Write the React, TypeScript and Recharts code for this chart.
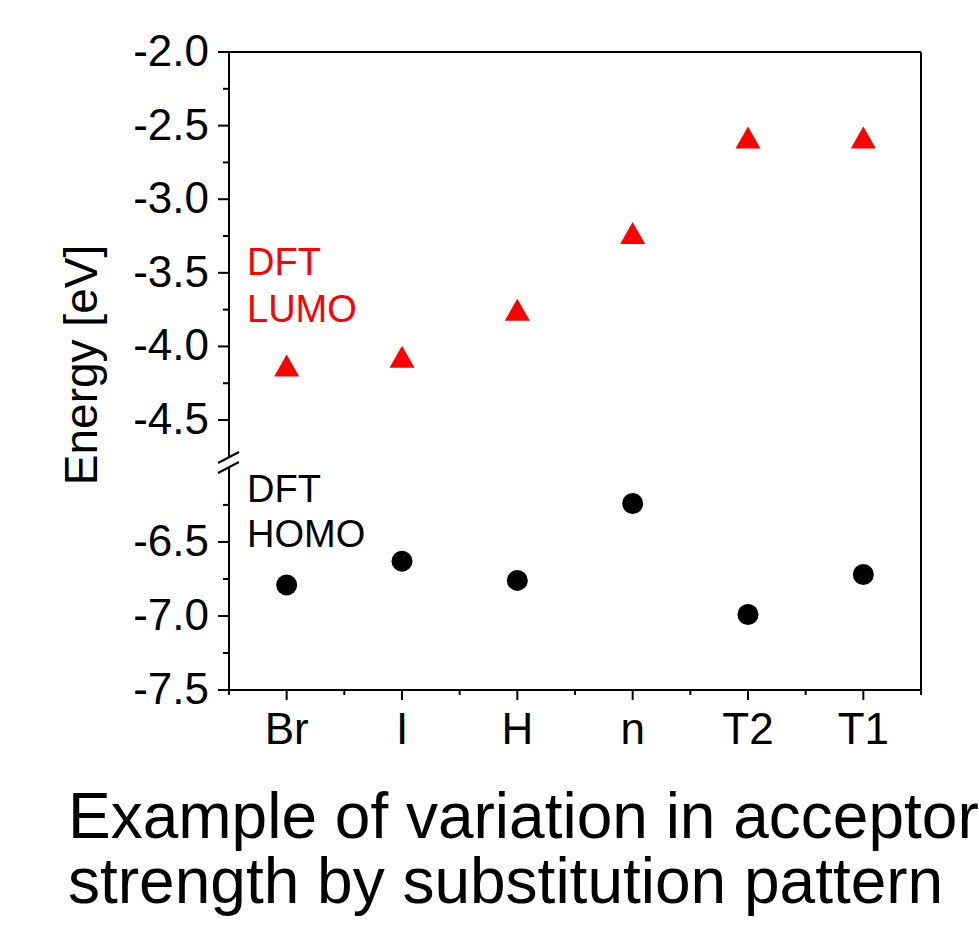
import { ReferenceLine, Scatter, ScatterChart, XAxis, YAxis } from 'recharts';

const FONT = '"Liberation Sans", Arial, sans-serif';

// substitution patterns along the x axis
const categories = ['Br', 'I', 'H', 'n', 'T2', 'T1'];
// DFT energies in eV
const lumo = [-4.13, -4.07, -3.75, -3.23, -2.58, -2.58];
const homo = [-6.79, -6.63, -6.76, -6.24, -6.99, -6.72];

// broken y axis: upper and lower segments
const topDomain = [-4.785, -2.0];
const bottomDomain = [-7.5, -5.96];
const topTicks = [-4.5, -4.25, -4.0, -3.75, -3.5, -3.25, -3.0, -2.75, -2.5, -2.25, -2.0];
const bottomTicks = [-7.5, -7.25, -7.0, -6.75, -6.5, -6.25];
const xTicks = [-0.5, 0, 0.5, 1, 1.5, 2, 2.5, 3, 3.5, 4, 4.5, 5, 5.5];

const lumoData = categories.map((c, i) => ({ x: i, y: lumo[i], name: c }));
const homoData = categories.map((c, i) => ({ x: i, y: homo[i], name: c }));

const isMajor = (v: number) => Math.abs(v * 2 - Math.round(v * 2)) < 1e-6;

function YTick({ x, y, payload }: any) {
    const v = payload.value as number;
    const major = isMajor(v);
    return (
        <g>
            <line x1={x - (major ? 11 : 6)} x2={x} y1={y} y2={y} stroke="#000" strokeWidth={2} />
            {major && (
                <text x={x - 20} y={y + 14} textAnchor="end" fontSize={44} fontFamily={FONT} fill="#000">
                    {v.toFixed(1)}
                </text>
            )}
        </g>
    );
}

function XTick({ x, y, payload }: any) {
    const v = payload.value as number;
    const major = Number.isInteger(v);
    return (
        <g>
            <line x1={x} x2={x} y1={y} y2={y + (major ? 10 : 5)} stroke="#000" strokeWidth={2} />
            {major && (
                <text x={x} y={y + 54} textAnchor="middle" fontSize={44} fontFamily={FONT} fill="#000">
                    {categories[v]}
                </text>
            )}
        </g>
    );
}

const Triangle = (p: any) => (
    <polygon
        points={`${p.cx},${p.cy - 11} ${p.cx - 12.5},${p.cy + 11} ${p.cx + 12.5},${p.cy + 11}`}
        fill="#ff0000"
    />
);

const Dot = (p: any) => <circle cx={p.cx} cy={p.cy} r={10.5} fill="#000" />;

const axisLine = { stroke: '#000', strokeWidth: 2 };

export default function App() {
    return (
        <div style={{ position: 'absolute', left: 0, top: 0, width: 979, height: 927, background: '#fff' }}>
            {/* upper segment: LUMO */}
            <div style={{ position: 'absolute', left: 0, top: 0 }}>
                <ScatterChart width={979} height={470} margin={{ top: 52, right: 58, bottom: 8, left: 109 }}>
                    <XAxis type="number" dataKey="x" domain={[-0.5, 5.5]} hide />
                    <YAxis
                        type="number"
                        dataKey="y"
                        domain={topDomain}
                        ticks={topTicks}
                        interval={0}
                        width={120}
                        allowDataOverflow
                        axisLine={axisLine}
                        tickLine={false}
                        tickSize={0}
                        tickMargin={0}
                        tick={(p: any) => <YTick {...p} />}
                    />
                    <ReferenceLine y={-2.0} stroke="#000" strokeWidth={2} />
                    <ReferenceLine x={5.5} stroke="#000" strokeWidth={2} />
                    <Scatter data={lumoData} shape={Triangle} isAnimationActive={false} />
                </ScatterChart>
            </div>

            {/* lower segment: HOMO */}
            <div style={{ position: 'absolute', left: 0, top: 440 }}>
                <ScatterChart width={979} height={330} margin={{ top: 22, right: 58, bottom: 20, left: 109 }}>
                    <XAxis
                        type="number"
                        dataKey="x"
                        domain={[-0.5, 5.5]}
                        ticks={xTicks}
                        interval={0}
                        height={60}
                        allowDataOverflow
                        axisLine={axisLine}
                        tickLine={false}
                        tickSize={0}
                        tickMargin={0}
                        tick={(p: any) => <XTick {...p} />}
                    />
                    <YAxis
                        type="number"
                        dataKey="y"
                        domain={bottomDomain}
                        ticks={bottomTicks}
                        interval={0}
                        width={120}
                        allowDataOverflow
                        axisLine={axisLine}
                        tickLine={false}
                        tickSize={0}
                        tickMargin={0}
                        tick={(p: any) => <YTick {...p} />}
                    />
                    <ReferenceLine x={5.5} stroke="#000" strokeWidth={2} />
                    <Scatter data={homoData} shape={Dot} isAnimationActive={false} />
                </ScatterChart>
            </div>

            {/* axis break, labels and caption */}
            <svg
                width={979}
                height={927}
                style={{ position: 'absolute', left: 0, top: 0, pointerEvents: 'none' }}
            >
                <rect x={224} y={458} width={10} height={9} fill="#fff" />
                <line x1={218} y1={463} x2={239} y2={452} stroke="#000" strokeWidth={2} />
                <line x1={218} y1={473} x2={239} y2={462} stroke="#000" strokeWidth={2} />

                <text
                    x={97}
                    y={365}
                    transform="rotate(-90, 97, 365)"
                    textAnchor="middle"
                    fontSize={46}
                    fontFamily={FONT}
                    fill="#000"
                >
                    Energy [eV]
                </text>

                <text x={247} y={275} fontSize={38} fontFamily={FONT} fill="#ff0000">
                    DFT
                </text>
                <text x={247} y={322} fontSize={38} fontFamily={FONT} fill="#ff0000">
                    LUMO
                </text>
                <text x={247} y={502} fontSize={38} fontFamily={FONT} fill="#000">
                    DFT
                </text>
                <text x={247} y={547} fontSize={38} fontFamily={FONT} fill="#000">
                    HOMO
                </text>

                <text x={68} y={838} fontSize={64} fontFamily={FONT} fill="#000">
                    Example of variation in acceptor
                </text>
                <text x={68} y={903} fontSize={64} fontFamily={FONT} fill="#000">
                    strength by substitution pattern
                </text>
            </svg>
        </div>
    );
}
